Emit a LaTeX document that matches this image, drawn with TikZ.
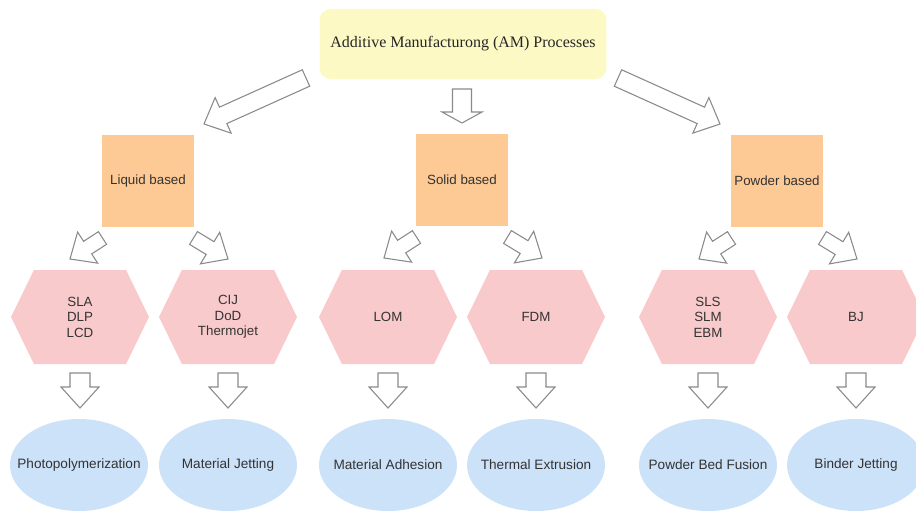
\documentclass[tikz,border=0pt]{standalone}
\usepackage{fontspec}
\setmainfont{Liberation Sans}
\newfontfamily\titlefont{Liberation Serif}
\usetikzlibrary{shapes.geometric,shapes.symbols,calc}
\definecolor{titlefill}{HTML}{FCF9C4}
\definecolor{groupfill}{HTML}{FDC994}
\definecolor{techfill}{HTML}{F9CACB}
\definecolor{famfill}{HTML}{CCE2F8}
\definecolor{arrowline}{HTML}{8A8A8A}
\newcommand\fatarrow[5]{%
	\coordinate (fa-h) at ($(#2)!{#5*0.75pt}!(#1)$);
	\draw[blockarrow] ($(#1)!{#3*0.75pt}!90:(#2)$) -- ($(fa-h)!{#3*0.75pt}!90:(#2)$)
		-- ($(fa-h)!{#4*0.75pt}!90:(#2)$) -- (#2) -- ($(fa-h)!{#4*0.75pt}!-90:(#2)$)
		-- ($(fa-h)!{#3*0.75pt}!-90:(#2)$) -- ($(#1)!{#3*0.75pt}!-90:(#2)$) -- cycle;}
\begin{document}
\begin{tikzpicture}
		[x=0.75pt,y=-0.75pt,
		title/.style={rectangle,rounded corners=8pt,fill=titlefill,minimum width=215pt,
minimum height=52.5pt,inner sep=0pt,font=\titlefont\fontsize{12}{14}\selectfont,text=black!85},
		group/.style={rectangle,fill=groupfill,minimum size=69pt,inner sep=0pt,
font=\fontsize{10}{12}\selectfont,text=black!80},
		tech/.style={signal,signal to=west and east,signal pointer angle=128,fill=techfill,
minimum width=103.5pt,minimum height=70.5pt,inner sep=0pt,align=center,
font=\fontsize{10}{11.6}\selectfont,text=black!80},
		family/.style={ellipse,fill=famfill,minimum width=103.5pt,minimum height=69pt,
inner sep=0pt,font=\fontsize{10.2}{12}\selectfont,text=black!80,
execute at begin node={\hbox to 0pt\bgroup\hss},execute at end node={\hss\egroup}},
		blockarrow/.style={draw=arrowline,fill=white,line width=0.8pt,line join=miter}]
		\clip (0,0) rectangle (916,510);
		\node at (463,44) (am) [title] {Additive Manufacturong (AM) Processes};
		\node at (148,181) (liquid) [group] {Liquid based};
		\node at (462,180) (solid) [group] {Solid based};
		\node at (777,181) (powder) [group] {Powder based};
		\node at (80,317) (sla) [tech] {SLA\\DLP\\LCD};
		\node at (228,317) (cij) [tech] {CIJ\\DoD\\Thermojet};
		\node at (388,317) (lom) [tech] {LOM};
		\node at (536,317) (fdm) [tech] {FDM};
		\node at (708,317) (sls) [tech] {SLS\\SLM\\EBM};
		\node at (856,317) (bj) [tech] {BJ};
		\node at (79,465) (photo) [family] {Photopolymerization};
		\node at (228,465) (jetting) [family] {Material Jetting};
		\node at (388,465) (adhesion) [family] {Material Adhesion};
		\node at (536,465) (extrusion) [family] {Thermal Extrusion};
		\node at (708,465) (pbf) [family] {Powder Bed Fusion};
		\node at (856,465) (binder) [family] {Binder Jetting};
		\coordinate (am-l) at (306,78);
		\coordinate (am-m) at (462,89);
		\coordinate (am-r) at (618,78);
		\coordinate (liquid-in) at (204,124);
		\coordinate (solid-in) at (462,123);
		\coordinate (powder-in) at (720,124);
		\fatarrow{am-l}{liquid-in}{9}{19.5}{21}
		\fatarrow{am-m}{solid-in}{9.5}{20}{11}
		\fatarrow{am-r}{powder-in}{9}{19.5}{21}
		\foreach \grp/\lft/\rgt in {liquid/sla/cij,solid/lom/fdm,powder/sls/bj}{
			\coordinate (\grp-l) at ($(\grp)+(-45.5,57)$);
			\coordinate (\grp-r) at ($(\grp)+(45.5,57)$);
			\coordinate (\lft-in) at ($(\grp)+(-78,78)$);
			\coordinate (\rgt-in) at ($(\grp)+(80,78)$);
			\fatarrow{\grp-l}{\lft-in}{7.5}{18.5}{21}
			\fatarrow{\grp-r}{\rgt-in}{7.5}{18.5}{21}
		}
		\foreach \tch/\fam in {sla/photo,cij/jetting,lom/adhesion,fdm/extrusion,sls/pbf,bj/binder}{
			\coordinate (\tch-out) at ($(\tch)+(0,56)$);
			\coordinate (\fam-in) at ($(\tch)+(0,91)$);
			\fatarrow{\tch-out}{\fam-in}{10}{19}{21}
		}
	\end{tikzpicture}
\end{document}
